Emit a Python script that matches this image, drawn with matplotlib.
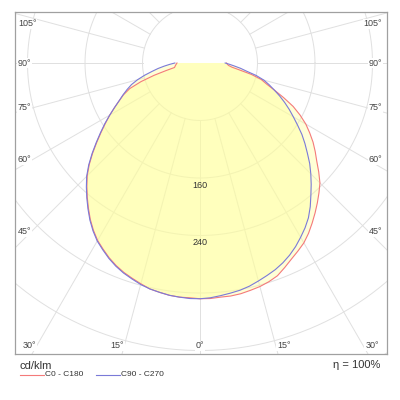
import numpy as np
import matplotlib
matplotlib.use("Agg")
import matplotlib.pyplot as plt

plt.rcParams['font.family'] = ['Liberation Sans', 'DejaVu Sans']

# gamma angles (deg) and luminous intensity (cd/klm)
gamma = [0, 2.5, 5, 7.5, 10, 12.5, 15, 17.5, 20, 22.5, 25, 27.5, 30, 32.5, 35, 37.5, 40, 42.5, 45,
         47.5, 50, 52.5, 55, 57.5, 60, 62.5, 65, 67.5, 70, 72.5, 75, 77.5, 80, 82.5, 85, 87.5, 90]
c0 = [328, 328, 327, 327, 326, 324, 322, 319, 315, 308, 301, 295, 289, 281, 272, 263, 254, 245, 236,
      224, 212, 202, 192, 181, 170, 157, 143, 126, 110, 97, 88, 73, 56, 45, 40, 38, 37]
c180 = [328, 327, 327, 326, 324, 322, 318, 314, 310, 305, 299, 292, 285, 276, 266, 255, 244, 233, 222,
        209, 195, 181, 168, 156, 145, 134, 124, 115, 104, 86, 66, 48, 36, 35, 34, 33, 32]
c90 = [328, 327, 325, 323, 321, 318, 314, 310, 306, 301, 295, 288, 280, 272, 263, 252, 240, 229, 218,
       207, 195, 184, 173, 161, 150, 140, 130, 120, 110, 101, 92, 80, 66, 57, 48, 41, 35]
c270 = [328, 328, 327, 326, 324, 322, 319, 315, 311, 306, 300, 293, 286, 277, 267, 256, 245, 234, 223,
        210, 196, 182, 169, 157, 145, 134, 124, 116, 108, 100, 90, 79, 68, 59, 50, 42, 35]

ring_values = [80, 160, 240, 320, 400, 480]
ring_labels = {160: '160', 240: '240'}
spoke_angles = np.arange(0, 360, 15)


def curve(right, left):
    g = np.radians(gamma)
    r = np.array(right, float)
    l = np.array(left, float)
    x = np.concatenate([-l[::-1] * np.sin(g[::-1]), r * np.sin(g)])
    y = np.concatenate([-l[::-1] * np.cos(g[::-1]), -r * np.cos(g)])
    return x, y


fig = plt.figure(figsize=(4, 4), dpi=100)
W, H = 400.0, 400.0
left_px, right_px, top_px, bot_px = 15, 386.7, 11.7, 354
ax = fig.add_axes([left_px / W, 1 - bot_px / H, (right_px - left_px) / W, (bot_px - top_px) / H])

u = 80 / 57.5  # cd/klm per pixel
cx, cy = 200, 63
ax.set_xlim((left_px - cx) * u, (right_px - cx) * u)
ax.set_ylim(-(bot_px - cy) * u, (cy - top_px) * u)
ax.set_xticks([])
ax.set_yticks([])
for s in ax.spines.values():
    s.set_color('#a0a0a0')
    s.set_linewidth(0.9)

# grid
t = np.linspace(0, 2 * np.pi, 400)
for rv in ring_values:
    ax.plot(rv * np.cos(t), rv * np.sin(t), color='#e0e0e0', lw=0.7, zorder=1)
for a in spoke_angles:
    ar = np.radians(a)
    ax.plot([80 * np.sin(ar), 700 * np.sin(ar)], [-80 * np.cos(ar), -700 * np.cos(ar)],
            color='#e0e0e0', lw=0.7, zorder=1)

# curves
xa, ya = curve(c0, c180)
xb, yb = curve(c90, c270)
ax.fill(xa, ya, color='#ffff99', alpha=0.4, lw=0, zorder=2)
ax.fill(xb, yb, color='#ffff99', alpha=0.4, lw=0, zorder=2)
ax.plot(xa, ya, color='#f47a7a', lw=0.8, zorder=4)
ax.plot(xb, yb, color='#7a7ad8', lw=0.8, zorder=4)

for rv, txt in ring_labels.items():
    ax.text(0, -rv - 4, txt, ha='center', va='top', fontsize=6.5, color='#333333', zorder=5)

# angle labels at box edges (pixel positions)
def px(x, y):
    return ((x - left_px) / (right_px - left_px), (bot_px - y) / (bot_px - top_px))

lab_kw = dict(fontsize=6.5, color='#444444', va='center', transform=ax.transAxes, zorder=6,
              bbox=dict(facecolor='white', edgecolor='none', pad=0.6))
for txt, y in [('105°', 24), ('90°', 63), ('75°', 108), ('60°', 160), ('45°', 232)]:
    ax.text(*px(18, y), txt, ha='left', **lab_kw)
    ax.text(*px(382, y), txt, ha='right', **lab_kw)
for txt, x in [('30°', 29), ('15°', 117), ('0°', 200), ('15°', 284), ('30°', 372)]:
    ax.text(*px(x, 346), txt, ha='center', **lab_kw)

fig.text(20 / W, 1 - 366 / H, 'cd/klm', fontsize=8, color='#333333', va='center', ha='left')
fig.text(380 / W, 1 - 365 / H, 'η = 100%', fontsize=8, color='#333333', va='center', ha='right')
fig.add_artist(plt.Line2D([20 / W, 44 / W], [1 - 375 / H] * 2, color='#f47a7a', lw=0.8))
fig.text(45 / W, 1 - 375 / H, 'C0 - C180', fontsize=6, color='#333333', va='center', ha='left')
fig.add_artist(plt.Line2D([96 / W, 120 / W], [1 - 375 / H] * 2, color='#7a7ad8', lw=0.8))
fig.text(121 / W, 1 - 375 / H, 'C90 - C270', fontsize=6, color='#333333', va='center', ha='left')

fig.savefig('out.png', dpi=100, facecolor='white')
